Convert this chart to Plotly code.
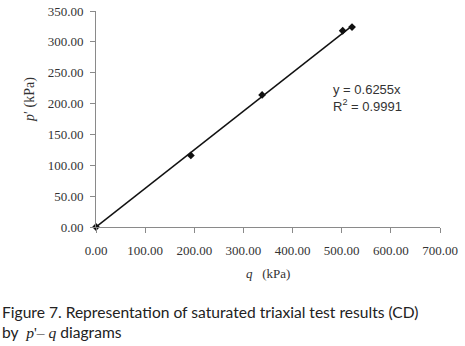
import plotly.graph_objects as go

q_kpa = [0.0, 193.0, 338.0, 502.0, 521.0]
p_kpa = [0.0, 116.0, 214.0, 318.0, 324.0]
slope = 0.6255
r2 = 0.9991
x_ticks = [0, 100, 200, 300, 400, 500, 600, 700]
y_ticks = [0, 50, 100, 150, 200, 250, 300, 350]

W, H = 465, 346
L, R, T, B = 96, 25, 11, 119
pw, ph = W - L - R, H - T - B

def px(x):
    return (x - L) / pw

def py(y):
    return (H - B - y) / ph

serif = "Liberation Serif, Times New Roman, serif"
sans = "Liberation Sans, Arial, sans-serif"

fig = go.Figure()
trend_x = [0.0, max(q_kpa)]
fig.add_trace(go.Scatter(x=trend_x, y=[slope * v for v in trend_x], mode="lines",
                         line=dict(color="#111111", width=1.5), showlegend=False,
                         cliponaxis=False))
fig.add_trace(go.Scatter(x=q_kpa, y=p_kpa, mode="markers",
                         marker=dict(symbol="diamond", size=6, color="#111111"),
                         showlegend=False, cliponaxis=False))

axis_common = dict(showgrid=False, zeroline=False, showline=True, linecolor="#8a8a8a",
                   linewidth=1, ticks="outside", ticklen=5, tickcolor="#8a8a8a",
                   tickfont=dict(family=serif, size=13, color="#333333"), automargin=False)
fig.update_xaxes(range=[0, 700], tickvals=x_ticks, ticklabelstandoff=6,
                 ticktext=[f"{v:.2f}" for v in x_ticks], **axis_common)
fig.update_yaxes(range=[0, 350], tickvals=y_ticks, ticklabelstandoff=4,
                 ticktext=[f"{v:.2f}" for v in y_ticks], **axis_common)

def note(text, x, y, xanchor="center", **kw):
    return dict(text=text, x=px(x), y=py(y), xref="paper", yref="paper",
                xanchor=xanchor, yanchor="middle", showarrow=False, **kw)

caption = ("Figure 7. Representation of saturated triaxial test results (CD)<br>"
           "by  <span style='font-family:Liberation Serif'><i>p</i>'– <i>q</i></span> diagrams")

ann = [
    note(f"y = {slope}x<br>R<sup>2</sup> = {r2}", 331, 98, xanchor="left", align="left",
         font=dict(family=sans, size=13, color="#333333")),
    note("<i>p</i>′ (kPa)", 30, 100, textangle=-90,
         font=dict(family=serif, size=14, color="#333333")),
    note("<i>q</i>   (kPa)", 268, 273,
         font=dict(family=serif, size=13, color="#333333")),
    note(caption, 0, 322, xanchor="left", align="left",
         font=dict(family="Lato, sans-serif", size=15.6, color="#222222")),
]

fig.update_layout(width=W, height=H, margin=dict(l=L, r=R, t=T, b=B),
                  paper_bgcolor="white", plot_bgcolor="white", annotations=ann)
fig.write_html("out.html", config={"displayModeBar": False},
               post_script="document.body.style.margin='0';")
